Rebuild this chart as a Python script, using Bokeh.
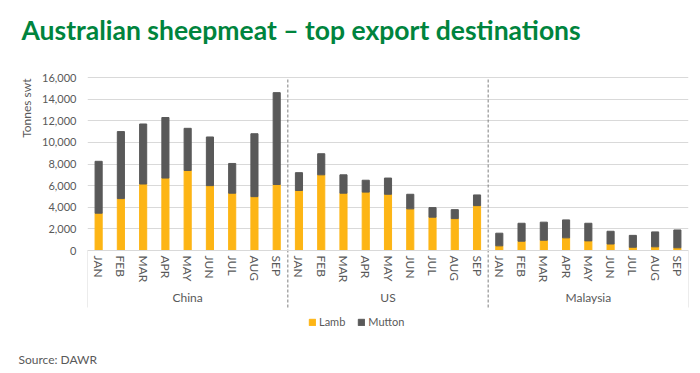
from bokeh.plotting import figure
from bokeh.models import (FactorRange, Range1d, FixedTicker, NumeralTickFormatter,
                          Legend, LegendItem, Title, ColumnDataSource)
from bokeh.embed import file_html
from bokeh.resources import INLINE

countries = ["China", "US", "Malaysia"]
months = ["JAN", "FEB", "MAR", "APR", "MAY", "JUN", "JUL", "AUG", "SEP"]

lamb_china = [3450, 4800, 6150, 6700, 7400, 6000, 5300, 4980, 6100]
mutton_china = [4800, 6200, 5550, 5600, 3900, 4500, 2750, 5820, 8500]
lamb_us = [5550, 7000, 5300, 5400, 5200, 3850, 3080, 2950, 4150]
mutton_us = [1650, 1950, 1700, 1100, 1500, 1350, 890, 830, 990]
lamb_my = [430, 860, 950, 1170, 890, 600, 300, 340, 250]
mutton_my = [1170, 1660, 1670, 1660, 1630, 1180, 1100, 1380, 1650]

y_ticks = [0, 2000, 4000, 6000, 8000, 10000, 12000, 14000, 16000]

LAMB_C = "#FDB515"
MUTTON_C = "#595959"
TEXT_C = "#595959"
FONT = "Lato"

# layout (pixels from the top of the page)
FRAME_TOP = 57     # frame starts above the top gridline
VALUE_TOP = 77     # y = 16000
ZERO = 250         # y = 0
FRAME_BOTTOM = 339 # frame extends below y=0 to hold category labels + legend
AXIS_BOTTOM = 307  # bottom of the category-label area

ymax = y_ticks[-1]
ppu = (ZERO - VALUE_TOP) / ymax
y_end = ymax + (VALUE_TOP - FRAME_TOP) / ppu
y_start = -(FRAME_BOTTOM - ZERO) / ppu
depth = -(AXIS_BOTTOM - ZERO) / ppu

factors = [(c, m) for c in countries for m in months]
src = ColumnDataSource(dict(
    x=factors,
    lamb=lamb_china + lamb_us + lamb_my,
    mutton=mutton_china + mutton_us + mutton_my,
))

p = figure(
    x_range=FactorRange(*factors, factor_padding=0, group_padding=0, range_padding=0),
    y_range=Range1d(y_start, y_end),
    frame_width=601, frame_height=FRAME_BOTTOM - FRAME_TOP,
    output_backend="svg", toolbar_location=None,
    min_border_left=87, min_border_right=12, min_border_top=FRAME_TOP, min_border_bottom=0,
)
p.outline_line_color = None
p.background_fill_color = "white"

rs = p.vbar_stack(["lamb", "mutton"], x="x", width=0.32, color=[LAMB_C, MUTTON_C], source=src)

# group separators (plot area + category-label area)
sep_x = [(countries[i], months[-1], 0.5) for i in range(len(countries) - 1)]
p.segment(x0=sep_x, y0=[depth] * len(sep_x), x1=sep_x, y1=[ymax] * len(sep_x),
          line_color="#7F7F7F", line_dash="3 2", line_width=1)
# outer edges of the category-label area
edge_x = [(countries[0], months[0], -0.5), (countries[-1], months[-1], 0.5)]
p.segment(x0=edge_x, y0=[0, 0], x1=edge_x, y1=[depth, depth],
          line_color="#D9D9D9", line_width=1)

# y axis
ya = p.yaxis[0]
ya.ticker = FixedTicker(ticks=y_ticks)
ya.formatter = NumeralTickFormatter(format="0,0")
ya.axis_line_color = None
ya.major_tick_line_color = None
ya.minor_tick_line_color = None
ya.major_tick_out = 0
ya.major_tick_in = 0
ya.major_label_text_font = FONT
ya.major_label_text_font_size = "11px"
ya.major_label_text_color = TEXT_C
ya.major_label_standoff = 11

p.ygrid.grid_line_color = "#D9D9D9"
p.xgrid.grid_line_color = None

ylab = Title(text="Tonnes swt", align="right", offset=VALUE_TOP - FRAME_TOP + 1, standoff=12,
             text_font=FONT, text_font_size="12px", text_font_style="normal",
             text_color=TEXT_C)
p.add_layout(ylab, "left")

# x axis, placed at y = 0 inside the frame
xa = p.xaxis[0]
xa.fixed_location = 0
xa.axis_line_color = "#D9D9D9"
xa.major_tick_line_color = None
xa.major_tick_out = 0
xa.major_tick_in = 0
xa.major_label_orientation = "vertical"
xa.major_label_text_font = FONT
xa.major_label_text_font_size = "12px"
xa.major_label_text_color = TEXT_C
xa.major_label_standoff = 5
xa.group_text_font = FONT
xa.group_text_font_size = "12px"
xa.group_text_font_style = "normal"
xa.group_text_color = TEXT_C
xa.separator_line_color = None

# title
p.title.text = "Australian sheepmeat \u2013 top export destinations"
p.title.align = "left"
p.title.vertical_align = "bottom"
p.title.offset = -66
p.title.standoff = 23
p.title.text_font = FONT
p.title.text_font_size = "26.5px"
p.title.text_font_style = "bold"
p.title.text_color = "#00843D"

legend = Legend(
    items=[LegendItem(label="Lamb", renderers=[rs[0]]),
           LegendItem(label="Mutton", renderers=[rs[1]])],
    orientation="horizontal", location=(221, 11),
    glyph_width=8, glyph_height=8, label_height=12,
    label_text_font=FONT, label_text_font_size="11px", label_text_color=TEXT_C,
    label_standoff=3, spacing=12, padding=2, margin=0,
    border_line_color=None, background_fill_alpha=0,
)
p.add_layout(legend)

source = Title(text="Source: DAWR", align="left", offset=-69, standoff=20,
               text_font=FONT, text_font_size="12px", text_font_style="normal",
               text_color=TEXT_C)
p.add_layout(source, "below")

open("out.html", "w").write(file_html(p, INLINE))
